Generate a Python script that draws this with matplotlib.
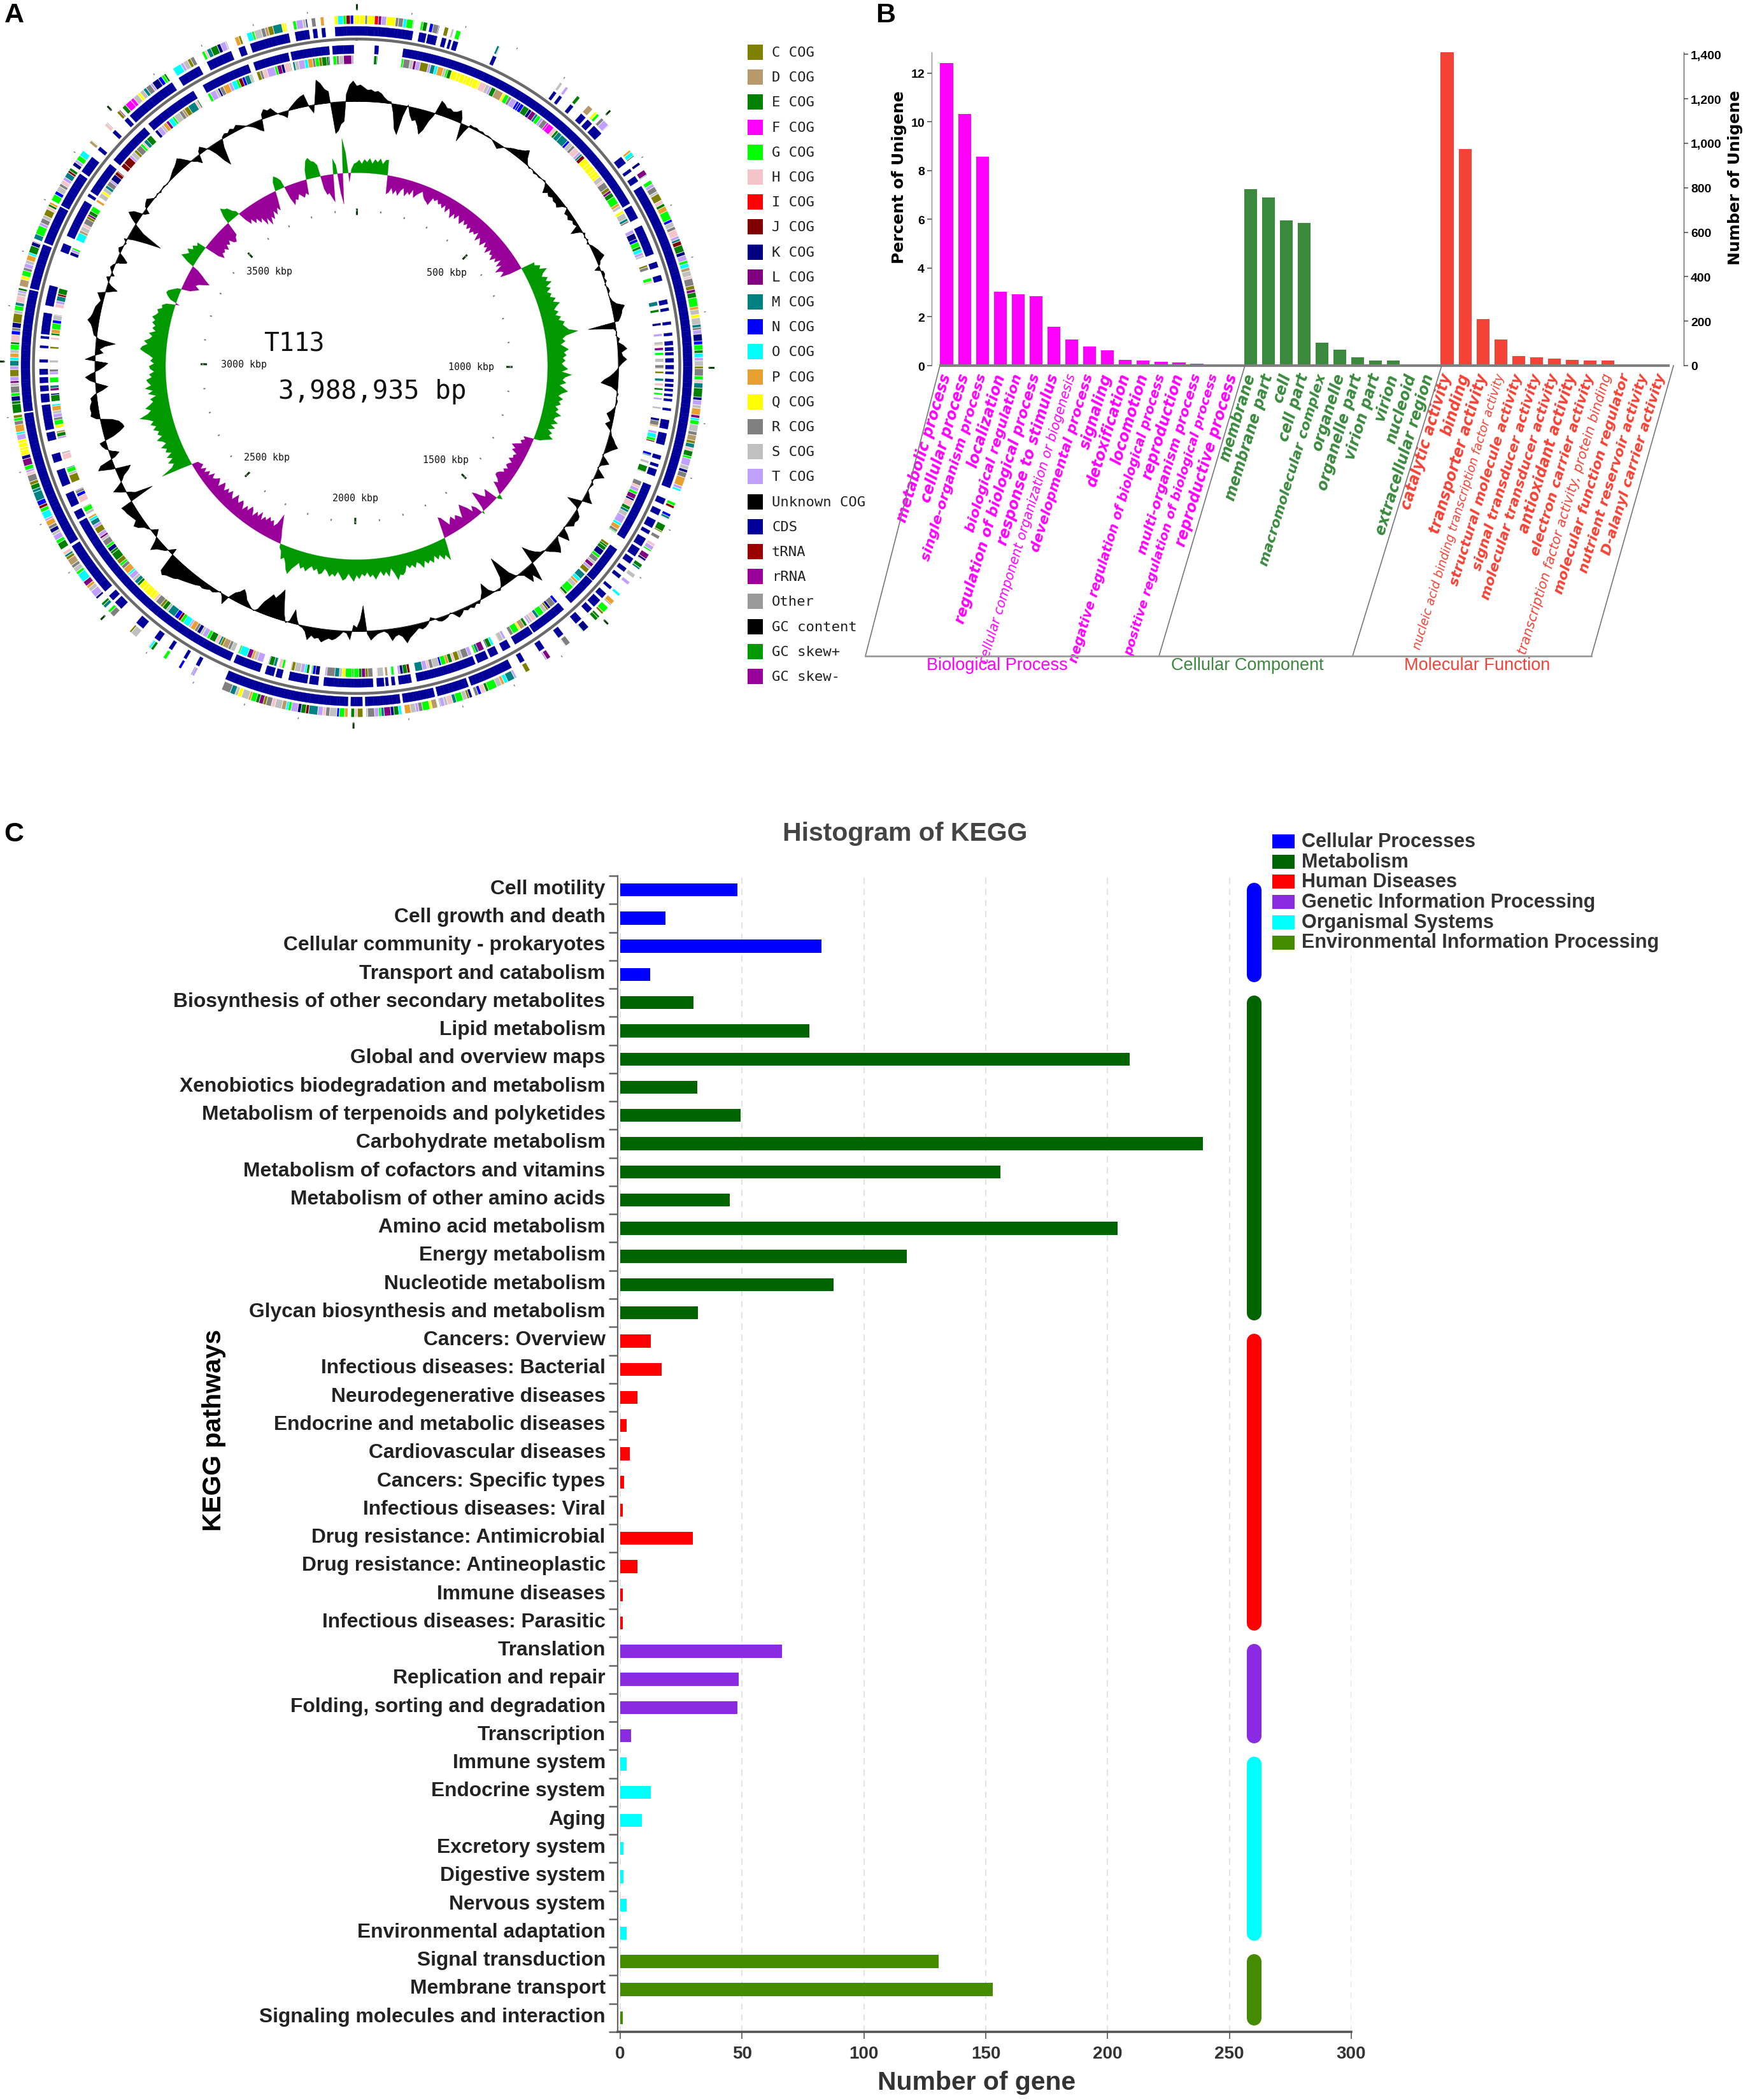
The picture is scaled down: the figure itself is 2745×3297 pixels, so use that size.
"""Three panel genome figure: circular map (A), GO bars (B), KEGG histogram (C)."""
import matplotlib
matplotlib.use("Agg")
import matplotlib.pyplot as plt
import numpy as np
from matplotlib.patches import Rectangle

W, H = 2745, 3298
plt.rcParams["font.family"] = ["Liberation Sans", "DejaVu Sans"]

# ---- panel A data
genome_kbp = 3988.935
cog_names = ["C", "D", "E", "F", "G", "H", "I", "J", "K", "L", "M", "N", "O", "P", "Q", "R", "S", "T"]
cog_colours = ["#808000", "#b8996b", "#008000", "#ff00ff", "#00ff00", "#f4c4c8", "#ff0000", "#800000",
               "#000080", "#800080", "#008080", "#0000ff", "#00ffff", "#e8a030", "#ffff00", "#808080",
               "#c0c0c0", "#c0a0ff"]
other_names = ["Unknown COG", "CDS", "tRNA", "rRNA", "Other", "GC content", "GC skew+", "GC skew-"]
other_colours = ["#000000", "#000099", "#990000", "#990099", "#999999", "#000000", "#009900", "#990099"]

# spans of annotated genes, degrees clockwise from the origin tick
forward_spans = [(0, 9.7), (10.8, 12), (12.3, 13.9), (14.8, 15.5), (16, 16.4), (16.8, 17.6), (24, 24.6), (36, 36.5),
                 (37.2, 37.7), (39.6, 40.2), (42, 43), (43.5, 44.5), (45, 46.8), (52, 53.3), (54.5, 55), (56, 57),
                 (58, 111), (113, 114), (115, 116), (117, 118.4), (119, 119.6), (120.5, 122), (122.5, 124),
                 (124.5, 125.5), (126.5, 127.2), (128, 128.6), (130.5, 131), (132, 133), (133.5, 135), (135.5, 136.5),
                 (138, 139.2), (142, 143), (146, 147), (150, 150.8), (152.5, 160), (160.5, 166), (166.5, 172),
                 (172.5, 178.5), (179, 181), (181.5, 203), (208, 208.6), (210.5, 211), (213.4, 214), (216, 217),
                 (219.5, 221), (224.5, 226), (226.5, 227.5), (228.5, 238), (238.5, 262), (262.3, 283), (283.3, 291),
                 (291.4, 298), (298.3, 304.5), (305, 308), (309.6, 310.2), (313.4, 314), (316.3, 317), (317.5, 326.6),
                 (328, 332), (333.5, 338), (339.4, 340.5), (341.5, 348.3), (349.4, 351.8), (352.5, 353.2),
                 (354, 354.6), (356.3, 360)]
reverse_spans = [(3.3, 4), (8.5, 59.5), (60, 62.5), (64, 69.5), (71, 72), (73.5, 74.5), (78, 78.8), (79.5, 80),
                 (82, 82.5), (84, 84.5), (85.5, 86.2), (86.6, 87.2), (87.5, 88), (88.6, 89.3), (89.8, 90.5), (91, 91.4),
                 (92.3, 92.8), (93.2, 93.7), (94.1, 94.5), (95, 95.4), (95.9, 96.3), (97.6, 98), (99.7, 101.3),
                 (102.1, 104.2), (106.2, 106.9), (107.8, 108.3), (108.8, 110), (111.8, 122.5), (124.8, 131.8),
                 (132, 137.5), (139.2, 146), (146.3, 150), (151, 152.5), (153.5, 155), (155.5, 157.5), (158, 169),
                 (170, 172.3), (173, 173.6), (174.2, 174.7), (175, 176.3), (177, 186), (187, 188.6), (189, 192.4),
                 (193.7, 194.8), (195.2, 196.8), (197.8, 202.8), (203.5, 241), (241.5, 243), (244, 246.5), (248, 251),
                 (252.5, 254), (256.5, 258), (258.5, 263), (263.5, 265), (265.5, 266.5), (267, 268), (268.5, 269.5),
                 (270.7, 271.2), (273.3, 273.7), (275, 275.4), (275.8, 279.6), (281, 284.6), (291, 292.5), (294, 301),
                 (302, 302.5), (303, 309), (310, 318), (319, 329), (331, 340), (341, 347.5), (348, 355), (355.6, 359.5)]
gene_lengths = [0.55, 0.9, 0.4, 1.2, 0.65, 0.5, 0.85, 1.5, 0.5, 0.8, 0.55, 1.1, 0.5, 0.4, 0.7, 1.15, 0.6, 0.9, 0.5, 0.7]
cog_sequence = ("EKGRSLTCTMOPSGEHNRKCSGMHSTEDQGRTSPOEKLMGTRSCHEPGNSRHTMJEKTGODSHRCLEGPSQSMRTKNGEOT"
                "SCRGHMEKTSPLOGSRDCMHEGTSKRPTOGJNMSECRHTGLKHEMSTOPRGCE")
# runs of one COG class that stand out in the outer rings
highlight_forward = [(359.5, 360, "Q"), (0, 1, "Q"), (1.2, 1.6, "R"), (1.8, 2.6, "Q"), (3, 3.6, "I"), (4.4, 4.8, "I"),
                     (5, 6, "Q"), (6, 7.4, "R"), (8, 9, "G"), (247, 249, "M"), (255, 257.5, "Q"),
                     (317.6, 319.7, "F"), (340, 340.5, "C"), (346.8, 348.3, "Q"), (356.3, 356.9, "Q")]
highlight_reverse = [(17.7, 23.6, "Q"), (30.5, 32.5, "N"), (38, 40, "F"), (40.7, 43, "M"), (47.9, 52.2, "Q"),
                     (179.5, 181, "G"), (221, 224.5, "Q"), (308, 309, "J"), (310, 312, "J")]

# values every 0.75 degrees, pixels away from the ring baseline
gc_content = [24, 26, 22, 18, 19, 16, 17, 14, 8, 4, 3, -14, -38, -46, -16, 3, -12, -20, -18, -26,
              -38, -30, -14, -3, 22, 19, 14, 15, 12, 14, 19, 8, -28, -10, 4, 3, 4, 2, 3, 1,
              2, 1, -2, -5, -8, -3, 1, 4, 7, 9, 12, 15, 20, 8, 2, -2, 1, -3, -1, -2,
              0, 2, -4, -14, -8, -11, -7, -10, -9, -12, -4, 1, -8, -6, -9, -4, -6, -3, -17, -4,
              3, -2, 2, -3, 3, 6, 9, 11, 14, 5, 2, -9, 3, 4, 1, 3, -2, 2, 3, -1,
              1, 3, 8, 20, 15, 13, 10, 6, -43, -4, 1, -2, 4, 1, 9, 14, 5, 7, 13, 6,
              1, -3, -8, -14, -22, -27, -10, -2, 2, -1, 2, 1, -2, -6, -12, -8, -4, -11, -5, 1,
              3, 8, 12, 18, 10, 4, -2, 6, 13, 3, -2, 6, 14, 4, -3, 3, 1, -1, 4, 8,
              15, -6, -23, -4, 3, 9, 10, 8, 10, 3, -2, 10, 18, -1, 5, 14, 20, 12, 6, -2,
              -4, -10, -18, -29, 8, 30, 14, 23, 6, 2, -3, -12, -30, -46, -14, -4, 3, 1, -2, -8,
              -22, -10, -3, 4, 2, 6, 3, 5, 2, 7, 10, 3, -2, 3, 5, 6, 4, -2, -5, 3,
              7, 9, 6, 10, 14, 18, 25, 14, 10, 12, 18, 6, 2, 3, 5, 9, 14, 4, -40, -18,
              -6, -10, 13, 3, 1, 7, 12, 15, 13, 16, 20, 14, 16, 12, 20, 8, 3, 1, -8, -22,
              -3, 2, -10, -28, -47, -38, -30, -34, -26, -18, -4, 1, -2, -6, -10, -18, -23, -16, -12, -3,
              14, 4, -2, 3, 6, 5, 8, 10, 9, 12, 14, 16, 18, 20, 22, 26, 28, 30, 34, 30,
              -10, -4, 4, 8, 12, 20, 6, -3, -10, -2, 3, 6, 14, 18, 10, 12, 14, 16, 17, 19,
              -40, -12, -3, 8, 18, 6, -3, -8, -18, -24, 6, 26, 20, -6, -15, -4, 4, 8, 10, -14,
              -26, -34, -32, -28, -18, 6, 14, 12, 13, 12, 9, 10, 3, -10, -19, -4, 9, 16, 6, -6,
              -14, -20, 16, 4, -12, -6, -14, -30, -4, 5, 7, 9, 12, 18, 14, 12, 11, 10, 7, 4,
              8, 12, -4, -17, -5, 2, 6, -5, 2, 6, 3, -4, -16, -8, 3, 6, 1, -2, 5, -10,
              -30, -52, -18, -3, 10, 20, 14, -2, -8, 4, 7, 9, 3, -1, 2, -2, 1, 2, -1, 1,
              3, 6, 9, 11, 14, 18, 12, 5, -2, -6, -13, 5, 10, 4, -3, -14, -30, -40, -12, 3,
              6, 4, 8, 5, 9, 6, 3, -1, -4, -8, -14, -18, 8, 14, 10, 12, 4, -2, -5, -10,
              2, 6, 10, 14, 17, 19, -2, -12, 10, 38, 32, 22, 18, -48, -44, -34, -30, 12, 26, 32]
gc_skew = [16, 20, 14, 21, 17, 23, 15, 22, 18, 24, 16, 23, 24, -29, -26, -18, -27, -20, -28, -19,
           -14, -26, -18, -22, -12, -24, -18, -14, -10, -17, -21, -23, -26, -13, -16, -12, -18, -15, -21, -14,
           -24, -15, -20, -28, -18, -25, -16, -22, -27, -17, -24, -19, -26, -20, -28, -22, -25, -18, -31, -22,
           -26, -31, -20, -28, -24, -33, -22, -29, -26, -34, -25, -30, -20, -32, -24, -38, -30, -27, -35, -20,
           22, 20, 28, 24, 35, 26, 22, 30, 25, 33, 22, 28, 20, 26, 22, 30, 24, 34, 27, 22,
           28, 22, 30, 25, 34, 30, 34, 38, 52, 32, 26, 30, 22, 28, 34, 26, 30, 24, 28, 22,
           26, 32, 22, 38, 28, 24, 30, 20, 27, 34, 25, 20, 28, 22, 26, 18, 24, 20, 30, 22,
           20, 28, 18, 26, 16, 24, 20, 28, 18, 10, -16, -12, -18, -14, -22, -28, -20, -24, -14, -18,
           -16, -22, -14, -18, -20, -14, -20, -16, -22, -25, -25, -18, -14, -20, -10, -3, 8, 2, -23, -18,
           -14, -20, -28, -33, -6, 5, -12, -18, -10, -20, -26, -32, -24, -12, -18, -22, -16, -24, -20, -14,
           -22, -30, -33, -10, 14, 35, 24, 30, 20, 26, 18, 28, 22, 26, 20, 30, 22, 18, 26, 20,
           24, 18, 28, 32, 30, 38, 26, 18, 30, 22, 28, 20, 26, 32, 24, 28, 20, 26, 22, 30,
           24, 34, 28, 22, 30, 33, 26, 20, 28, 24, 29, 22, 18, 26, 28, 20, 24, 18, 22, 28,
           22, 26, 18, 24, 30, 40, 34, 24, 18, 22, 10, 6, -10, -20, -32, -43, -26, -20, -28, -24,
           -30, -22, -26, -18, -30, -20, -26, -16, -24, -28, -18, -24, -14, -22, -26, -18, -22, -28, -16, -20,
           -26, -18, -24, -16, -22, -26, -14, -20, -24, -18, -15, -22, -12, -18, -10, -16, -8, -15, -12, -10,
           14, 50, 30, 24, 32, 22, 30, 20, 28, 24, 32, 22, 26, 34, 24, 30, 26, 34, 28, 36,
           30, 38, 50, 36, 30, 38, 30, 24, 28, 18, 30, 22, 34, 24, 28, 31, 22, 26, 18, 24,
           26, 18, 24, 20, 26, 34, 41, 38, 30, 36, 28, 24, 30, 20, 26, 22, 28, 24, 30, 25,
           22, 25, 18, 20, 14, -6, 10, 16, 20, 18, 12, 6, -14, -20, -26, -18, -22, -30, -37, -28,
           -20, -10, 12, 25, 20, 16, 22, 14, 18, 12, 15, -24, -33, -26, -28, -24, -30, -22, -26, -20,
           -28, -30, -24, -22, 12, 25, 20, 18, 10, 6, -14, -24, -18, -28, -22, -32, -26, -40, -30, -44,
           -32, -38, -26, -34, -24, -30, -12, 14, 22, 18, 12, -20, -32, -24, -26, -18, -22, -26, -20, -24,
           14, 28, 32, 26, 24, 18, -20, -30, -28, -36, -43, 24, 14, -30, -48, 54, 32, -14, 6, 14]

# ---- panel B data
go_labels = ["metabolic process", "cellular process", "single-organism process", "localization",
             "biological regulation", "regulation of biological process", "response to stimulus",
             "cellular component organization or biogenesis", "developmental process", "signaling",
             "detoxification", "locomotion", "negative regulation of biological process", "reproduction",
             "multi-organism process", "positive regulation of biological process", "reproductive process",
             "membrane", "membrane part", "cell", "cell part", "macromolecular complex", "organelle",
             "organelle part", "virion part", "virion", "nucleoid", "extracellular region",
             "catalytic activity", "binding", "transporter activity",
             "nucleic acid binding transcription factor activity", "structural molecule activity",
             "signal transducer activity", "molecular transducer activity", "antioxidant activity",
             "electron carrier activity", "transcription factor activity, protein binding",
             "molecular function regulator", "nutrient reservoir activity", "D-alanyl carrier activity"]
go_percent = [12.42, 10.33, 8.57, 3.02, 2.92, 2.85, 1.6, 1.07, 0.79, 0.63, 0.23, 0.21, 0.155, 0.135, 0.09, 0.05, 0.05,
              7.23, 6.9, 5.97, 5.85, 0.93, 0.65, 0.34, 0.22, 0.22, 0.04, 0.03,
              12.86, 8.88, 1.91, 1.06, 0.38, 0.33, 0.28, 0.23, 0.22, 0.21, 0.02, 0.01, 0.01]
go_groups = ["Biological Process", "Cellular Component", "Molecular Function"]
go_group_sizes = [17, 11, 13]
percent_ticks = [0, 2, 4, 6, 8, 10, 12]
number_ticks = [0, 200, 400, 600, 800, 1000, 1200, 1400]

# ---- panel C data
kegg_labels = ["Cell motility", "Cell growth and death", "Cellular community - prokaryotes", "Transport and catabolism",
               "Biosynthesis of other secondary metabolites", "Lipid metabolism", "Global and overview maps",
               "Xenobiotics biodegradation and metabolism", "Metabolism of terpenoids and polyketides",
               "Carbohydrate metabolism", "Metabolism of cofactors and vitamins", "Metabolism of other amino acids",
               "Amino acid metabolism", "Energy metabolism", "Nucleotide metabolism", "Glycan biosynthesis and metabolism",
               "Cancers: Overview", "Infectious diseases: Bacterial", "Neurodegenerative diseases",
               "Endocrine and metabolic diseases", "Cardiovascular diseases", "Cancers: Specific types",
               "Infectious diseases: Viral", "Drug resistance: Antimicrobial", "Drug resistance: Antineoplastic",
               "Immune diseases", "Infectious diseases: Parasitic", "Translation", "Replication and repair",
               "Folding, sorting and degradation", "Transcription", "Immune system", "Endocrine system", "Aging",
               "Excretory system", "Digestive system", "Nervous system", "Environmental adaptation",
               "Signal transduction", "Membrane transport", "Signaling molecules and interaction"]
kegg_counts = [48, 18.5, 82.5, 12.4, 30, 77.5, 209, 31.5, 49.5, 239, 156, 45, 204, 117.5, 87.5, 32,
               12.6, 17, 7, 2.7, 3.8, 1.6, 1, 29.7, 7, 1, 1, 66.5, 48.5, 48, 4.4,
               2.7, 12.6, 8.8, 1.3, 1.3, 2.7, 2.7, 130.7, 153, 1]
kegg_classes = ["Cellular Processes", "Metabolism", "Human Diseases", "Genetic Information Processing",
                "Organismal Systems", "Environmental Information Processing"]
kegg_class_sizes = [4, 12, 11, 4, 7, 3]
kegg_class_colours = ["#0000ff", "#006400", "#ff0000", "#8a2be2", "#00ffff", "#458b00"]
count_ticks = [0, 50, 100, 150, 200, 250, 300]
class_bar_x = 260


def px_rect(left, top, right, bottom):
    return [left / W, 1 - bottom / H, (right - left) / W, (bottom - top) / H]


def draw_genes(ax, spans, bottom, height, colours, highlights=(), gap=0.05, edge=0.0):
    """Lay genes end to end along each span, with the colour given by the COG sequence."""
    starts, widths, cols = [], [], []
    i = 0
    for a, b in spans:
        pos = a
        while pos < b:
            w = min(gene_lengths[i % len(gene_lengths)], b - pos)
            col = colours(i)
            for h0, h1, letter in highlights:
                if h0 <= pos < h1:
                    col = cog_lookup[letter]
            starts.append(pos)
            widths.append(max(w - gap, 0.05))
            cols.append(col)
            pos += w
            i += 1
    ax.bar(np.deg2rad(starts), height, width=np.deg2rad(widths), bottom=bottom, color=cols,
           edgecolor=cols, align="edge", linewidth=edge)


fig = plt.figure(figsize=(W / 100, H / 100), dpi=100, facecolor="white")

# overlay in pixel units for the free text, legend swatches and slanted frame
pix = fig.add_axes([0, 0, 1, 1], zorder=5)
pix.set_xlim(0, W)
pix.set_ylim(H, 0)
pix.axis("off")
pix.patch.set_alpha(0)

for letter, x, y in [("A", 22, 24), ("B", 1391, 24), ("C", 22, 1310)]:
    pix.text(x, y, letter, fontsize=31, fontweight="bold", ha="center", va="center")

# ---- A: circular map
cog_lookup = dict(zip(cog_names, cog_colours))
ax_a = fig.add_axes(px_rect(-10, -1, 1130, 1153), projection="polar")
ax_a.set_aspect("auto")
ax_a.set_theta_zero_location("N")
ax_a.set_theta_direction(-1)
ax_a.set_rlim(0, 570)
ax_a.set_axis_off()


def cog_colour(i):
    return cog_lookup[cog_sequence[i % len(cog_sequence)]]


def cds_colour(i):
    return "#000099"


draw_genes(ax_a, forward_spans, 531, 13, cog_colour, highlight_forward, gap=0.1)
draw_genes(ax_a, forward_spans, 513, 14, cds_colour, gap=0.0, edge=0.3)
draw_genes(ax_a, reverse_spans, 485, 13, cds_colour, gap=0.0, edge=0.3)
draw_genes(ax_a, reverse_spans, 469, 13, cog_colour, highlight_reverse, gap=0.1)

ring_theta = np.linspace(0, 2 * np.pi, 721)
ax_a.plot(ring_theta, np.full_like(ring_theta, 507.5), color="#6a6a6a", lw=3.2)

gc_theta = np.deg2rad(np.arange(len(gc_content) + 1) * 360 / len(gc_content))
gc_vals = np.array(gc_content + gc_content[:1], dtype=float)
ax_a.fill_between(gc_theta, 411, 411 + gc_vals, color="black", lw=0.4)
ax_a.plot(gc_theta, np.full_like(gc_theta, 411), color="black", lw=0.6)

skew_theta = np.deg2rad(np.arange(len(gc_skew) + 1) * 360 / len(gc_skew))
skew_vals = np.array(gc_skew + gc_skew[:1], dtype=float)
ax_a.fill_between(skew_theta, 300, 300 + skew_vals, where=skew_vals >= 0, interpolate=True, color="#009900", lw=0.2)
ax_a.fill_between(skew_theta, 300, 300 + skew_vals, where=skew_vals <= 0, interpolate=True, color="#990099", lw=0.2)

major_kbp = np.arange(0, genome_kbp, 500)
minor_kbp = np.arange(0, genome_kbp, 100)
major_theta = 2 * np.pi * major_kbp / genome_kbp
minor_theta = 2 * np.pi * minor_kbp / genome_kbp
ax_a.vlines(major_theta, 235, 245, color="#063a06", lw=2.2)
ax_a.vlines(major_theta, 553, 562, color="#063a06", lw=2.2)
ax_a.vlines(minor_theta, 240, 243, color="#777777", lw=1.4)
ax_a.vlines(minor_theta, 552, 555, color="#777777", lw=1.0)

mono = "DejaVu Sans Mono"
for label, x, y in [("500 kbp", 701, 429), ("1000 kbp", 740, 576), ("1500 kbp", 700, 722), ("2000 kbp", 558, 782),
                    ("2500 kbp", 419, 719), ("3000 kbp", 383, 572), ("3500 kbp", 423, 426)]:
    pix.text(x, y, label, family=mono, fontsize=10.8, ha="center", va="center", color="#111111")
pix.text(414, 540, "T113", family=mono, fontsize=28.5, ha="left", va="center", color="#111111")
pix.text(437, 615, "3,988,935 bp", family=mono, fontsize=29.4, ha="left", va="center", color="#111111")

for i, (name, colour) in enumerate(zip([n + " COG" for n in cog_names] + other_names, cog_colours + other_colours)):
    y = 83 + i * 39.2
    pix.add_patch(Rectangle((1174, y - 12), 24, 24, facecolor=colour, edgecolor="none"))
    pix.text(1212, y, name, family=mono, fontsize=16, ha="left", va="center", color="#222222")

# ---- B: GO bars with two scales
group_colours = ["#ff00ff", "#3a8a3e", "#f44336"]
bar_colours = np.repeat(group_colours, go_group_sizes)
ax_b = fig.add_axes(px_rect(1463, 83, 2644, 575))
x_go = np.arange(len(go_percent))
ax_b.bar(x_go, go_percent, width=0.72, color=bar_colours, linewidth=0)
ax_b.set_xlim(-0.84, 41.23)
ax_b.set_ylim(0, 12.86)
ax_b.hlines(0, -0.4, 40.45, color="#808080", lw=3, clip_on=False, zorder=4)
for side in ["top", "right", "bottom"]:
    ax_b.spines[side].set_visible(False)
ax_b.spines["left"].set_color("#777777")
ax_b.set_yticks(percent_ticks, [str(t) for t in percent_ticks], fontsize=14, fontweight="bold")
ax_b.tick_params(axis="y", length=5, width=1.2, color="#555555", pad=3)
pix.text(1412, 278, "Percent of Unigene", family="DejaVu Sans", fontweight="bold", fontsize=18,
         rotation=90, ha="center", va="center")

small_labels = {"cellular component organization or biogenesis": (14.8, "normal"),
                "nucleic acid binding transcription factor activity": (13.6, "normal"),
                "transcription factor activity, protein binding": (15.2, "normal"),
                "negative regulation of biological process": (14.8, "bold"),
                "positive regulation of biological process": (14.7, "bold"),
                "regulation of biological process": (16.6, "bold")}
ax_b.set_xticks(x_go, go_labels, rotation=73, ha="right", va="center", rotation_mode="anchor")
ax_b.tick_params(axis="x", length=0, pad=9)
for tick, label, colour in zip(ax_b.get_xticklabels(), go_labels, bar_colours):
    size, weight = small_labels.get(label, (16 if len(label) > 20 else 17, "bold"))
    tick.set(family="DejaVu Sans", style="oblique", fontsize=size, fontweight=weight, color=colour)

ax_b2 = ax_b.twinx()
ax_b2.set_ylim(0, 12.86 * 38.25 / 0.349)
for side in ["top", "left", "bottom"]:
    ax_b2.spines[side].set_visible(False)
ax_b2.spines["right"].set_color("#444444")
ax_b2.set_yticks(number_ticks, [f"{t:,}" for t in number_ticks], fontsize=14, fontweight="bold")
ax_b2.tick_params(axis="y", length=5, width=1.2, color="#555555", pad=3)
pix.text(2725, 279, "Number of Unigene", family="DejaVu Sans", fontweight="bold", fontsize=18,
         rotation=90, ha="center", va="center")

frame_top = [1476, 1955, 2264, 2628]
frame_bottom = [1359, 1820, 2124, 2499]
for x0, x1 in zip(frame_top, frame_bottom):
    pix.plot([x0, x1], [575, 1031], color="#777777", lw=1.2)
pix.plot([frame_bottom[0], frame_bottom[-1]], [1031, 1031], color="#999999", lw=2)
for name, colour, x in zip(go_groups, group_colours, [1566, 1959, 2320]):
    pix.text(x, 1045, name, color=colour, fontsize=19.5, ha="center", va="center")

# ---- C: KEGG histogram
row_colours = np.repeat(kegg_class_colours, kegg_class_sizes)
ax_c = fig.add_axes(px_rect(970.2, 1376, 2122, 3191))
y_kegg = np.arange(len(kegg_counts))
ax_c.barh(y_kegg + 0.5, kegg_counts, height=0.46, color=row_colours, linewidth=0, zorder=3)
ax_c.set_xlim(-1, 300)
ax_c.set_ylim(len(kegg_counts), 0)
ax_c.grid(axis="x", linestyle=(0, (5, 4)), color="#e2e2e2", lw=1.4, zorder=0)
for side in ["top", "right"]:
    ax_c.spines[side].set_visible(False)
ax_c.spines["left"].set(color="#666666", lw=1.6)
ax_c.spines["bottom"].set(color="#555555", lw=2.6)

ax_c.set_xticks(count_ticks, [str(t) for t in count_ticks], fontsize=20, fontweight="bold", color="#333333")
ax_c.tick_params(axis="x", length=8, width=1.2, color="#555555", pad=7)
ax_c.set_yticks(np.arange(len(kegg_counts) + 1))
ax_c.set_yticklabels([])
ax_c.tick_params(axis="y", length=10, width=1.8, color="#666666")
ax_c.set_yticks(y_kegg + 0.37, kegg_labels, minor=True, fontsize=22.9, fontweight="bold", color="#222222")
ax_c.tick_params(axis="y", which="minor", length=0, pad=14)

first = 0
for size, colour in zip(kegg_class_sizes, kegg_class_colours):
    ax_c.plot([class_bar_x, class_bar_x], [first + 0.5, first + size - 0.5], color=colour, lw=16.6,
              solid_capstyle="round", zorder=3)
    first += size

pix.text(1421, 1309, "Histogram of KEGG", fontsize=29.5, fontweight="bold", color="#444444", ha="center", va="center")
pix.text(336, 2246, "KEGG pathways", fontsize=29.3, fontweight="bold", rotation=90, ha="center", va="center")
pix.text(1534, 3270, "Number of gene", fontsize=29.4, fontweight="bold", color="#333333", ha="center", va="center")
for i, (name, colour) in enumerate(zip(kegg_classes, kegg_class_colours)):
    y = 1322 + i * 31.7
    pix.add_patch(Rectangle((1998, y - 11), 35, 22, facecolor=colour, edgecolor="none"))
    pix.text(2044, y, name, fontsize=22, fontweight="bold", color="#333333", ha="left", va="center")

fig.savefig("out.png", dpi=100)
